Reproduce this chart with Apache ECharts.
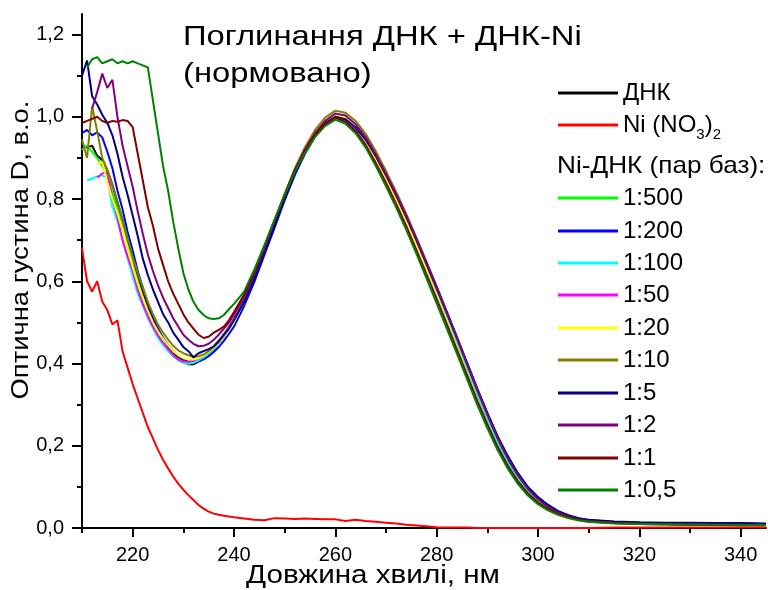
<!DOCTYPE html>
<html>
<head>
<meta charset="utf-8">
<script src="https://cdn.jsdelivr.net/npm/echarts@6.0.0/dist/echarts.min.js"></script>
<style>
html,body{margin:0;padding:0;background:#fff;}
#chart{width:768px;height:590px;}
</style>
</head>
<body>
<div id="chart"></div>
<script>
// Wavelengths, nm
const wavelengths = [
  210,211,212,213,214,215,216,217,218,219,220,221,222,223,224,225,226,227,228,229,230,
  231,232,233,234,235,236,237,238,239,240,
  242,244,246,248,250,252,254,256,258,260,262,264,266,268,270,272,274,276,278,280,
  282,284,286,288,290,292,294,296,298,300,302,304,306,308,310,
  315,320,325,330,335,340,345
];

// Series values (optical density, normalized)
const dnk = [
  0.93,0.925,0.93,0.905,0.895,0.87,0.835,0.79,0.75,0.70,0.66,0.61,0.575,0.535,0.508,0.48,0.462,0.44,0.427,0.415,0.405,
  0.398,0.398,0.405,0.415,0.425,0.435,0.45,0.465,0.485,0.505,
  0.555,0.61,0.675,0.74,0.805,0.865,0.915,0.955,0.985,1.0,0.99,0.968,0.935,0.892,0.845,0.795,0.742,0.685,0.627,0.568,
  0.508,0.447,0.385,0.323,0.265,0.21,0.163,0.124,0.092,0.068,0.05,0.036,0.027,0.021,0.017,
  0.013,0.011,0.01,0.009,0.008,0.008,0.007
];
const niNitrate = [
  0.68,0.60,0.575,0.60,0.55,0.53,0.495,0.505,0.43,0.39,0.35,0.315,0.28,0.245,0.218,0.19,0.166,0.145,0.125,0.108,0.093,
  0.08,0.068,0.056,0.047,0.04,0.035,0.032,0.03,0.028,0.026,
  0.023,0.02,0.019,0.024,0.023,0.022,0.023,0.022,0.021,0.021,0.017,0.02,0.017,0.015,0.013,0.011,0.008,0.006,0.004,0.002,
  0.001,0.001,0.001,0.0,0.0,0.0,0.0,0.0,0.0,0.0,0.0,0.0,0.0,0.0,0.0,
  0.001,0.001,0.001,0.001,0.001,0.002,0.002
];
const r500 = [
  0.92,0.93,0.915,0.90,0.88,0.855,0.815,0.775,0.73,0.685,0.64,0.60,0.56,0.525,0.495,0.47,0.45,0.432,0.418,0.408,0.402,
  0.40,0.402,0.408,0.418,0.428,0.44,0.455,0.47,0.49,0.51,
  0.552,0.608,0.673,0.738,0.803,0.864,0.913,0.954,0.984,0.998,0.99,0.967,0.933,0.89,0.843,0.793,0.74,0.683,0.625,0.566,
  0.505,0.444,0.382,0.32,0.262,0.207,0.16,0.121,0.09,0.066,0.049,0.035,0.026,0.02,0.016,
  0.012,0.01,0.009,0.009,0.008,0.007,0.007
];
const r200 = [
  0.96,0.968,0.955,0.962,0.95,0.915,0.875,0.82,0.775,0.72,0.675,0.625,0.585,0.545,0.512,0.485,0.462,0.445,0.43,0.418,0.41,
  0.405,0.403,0.405,0.41,0.418,0.428,0.44,0.455,0.472,0.49,
  0.54,0.598,0.664,0.73,0.797,0.858,0.91,0.952,0.982,0.998,0.992,0.972,0.942,0.902,0.857,0.808,0.756,0.70,0.642,0.583,
  0.523,0.462,0.40,0.338,0.279,0.222,0.174,0.133,0.099,0.074,0.055,0.04,0.03,0.023,0.019,
  0.015,0.013,0.012,0.012,0.011,0.011,0.01
];
const r100 = [
  null,0.845,0.85,0.855,0.858,0.85,0.78,0.745,0.70,0.655,0.612,0.57,0.54,0.51,0.485,0.462,0.445,0.43,0.418,0.41,0.402,
  0.40,0.402,0.408,0.415,0.425,0.436,0.45,0.466,0.485,0.505,
  0.558,0.612,0.676,0.741,0.806,0.866,0.916,0.956,0.985,1.0,0.991,0.969,0.936,0.893,0.846,0.796,0.743,0.686,0.628,0.569,
  0.509,0.447,0.384,0.321,0.262,0.206,0.158,0.118,0.087,0.064,0.047,0.034,0.026,0.02,0.016,
  0.012,0.01,0.009,0.009,0.008,0.008,0.007
];
const r50 = [
  null,null,null,0.852,0.862,0.865,0.80,0.755,0.70,0.66,0.625,0.58,0.545,0.515,0.49,0.468,0.45,0.435,0.42,0.41,0.405,
  0.404,0.407,0.412,0.42,0.43,0.44,0.455,0.47,0.49,0.51,
  0.56,0.615,0.679,0.744,0.808,0.868,0.918,0.958,0.987,1.002,0.993,0.97,0.936,0.892,0.844,0.793,0.739,0.681,0.622,0.561,
  0.50,0.438,0.375,0.312,0.252,0.197,0.15,0.111,0.081,0.06,0.044,0.032,0.024,0.019,0.015,
  0.012,0.01,0.009,0.008,0.008,0.007,0.007
];
const r20 = [
  null,null,null,0.885,0.89,0.84,0.80,0.765,0.725,0.68,0.635,0.595,0.56,0.528,0.50,0.478,0.46,0.444,0.43,0.42,0.413,
  0.41,0.41,0.413,0.42,0.428,0.438,0.45,0.465,0.482,0.50,
  0.553,0.61,0.676,0.742,0.808,0.869,0.92,0.96,0.99,1.005,0.997,0.974,0.94,0.897,0.849,0.798,0.744,0.686,0.626,0.565,
  0.503,0.44,0.376,0.312,0.252,0.197,0.149,0.11,0.08,0.059,0.043,0.032,0.024,0.019,0.015,
  0.012,0.01,0.009,0.009,0.008,0.008,0.007
];
const r10 = [
  0.945,0.90,1.025,0.965,0.90,0.87,0.835,0.795,0.75,0.705,0.66,0.62,0.585,0.55,0.52,0.495,0.475,0.458,0.443,0.432,0.425,
  0.42,0.416,0.418,0.422,0.43,0.44,0.452,0.468,0.486,0.505,
  0.555,0.612,0.678,0.745,0.812,0.874,0.926,0.968,0.998,1.015,1.01,0.99,0.958,0.916,0.868,0.818,0.764,0.707,0.648,0.588,
  0.527,0.465,0.402,0.339,0.279,0.222,0.172,0.13,0.096,0.071,0.052,0.038,0.029,0.022,0.018,
  0.014,0.012,0.011,0.01,0.009,0.009,0.008
];
const r5 = [
  1.10,1.137,1.05,1.03,1.005,0.985,0.955,0.91,0.855,0.81,0.76,0.71,0.655,0.615,0.58,0.55,0.52,0.50,0.475,0.458,0.44,
  0.43,0.415,0.425,0.43,0.435,0.442,0.455,0.47,0.485,0.505,
  0.55,0.605,0.67,0.736,0.802,0.862,0.913,0.954,0.984,1.0,0.994,0.974,0.944,0.904,0.858,0.809,0.757,0.701,0.643,0.584,
  0.524,0.463,0.401,0.339,0.28,0.224,0.176,0.134,0.10,0.075,0.056,0.041,0.031,0.024,0.02,
  0.016,0.014,0.013,0.013,0.012,0.012,0.011
];
const r2 = [
  null,null,1.02,1.06,1.105,1.07,1.09,1.00,0.93,0.88,0.83,0.77,0.715,0.665,0.625,0.59,0.56,0.535,0.51,0.49,0.47,
  0.458,0.448,0.442,0.443,0.448,0.458,0.47,0.485,0.50,0.52,
  0.562,0.616,0.68,0.746,0.811,0.87,0.92,0.96,0.99,1.008,1.003,0.982,0.95,0.908,0.861,0.812,0.759,0.703,0.645,0.586,
  0.525,0.463,0.40,0.337,0.277,0.22,0.171,0.129,0.095,0.07,0.051,0.037,0.028,0.021,0.017,
  0.013,0.011,0.01,0.009,0.008,0.008,0.007
];
const r1 = [
  0.985,0.99,0.995,1.0,0.99,0.985,0.99,0.988,0.992,0.99,0.975,0.91,0.845,0.78,0.735,0.68,0.64,0.60,0.57,0.545,0.52,
  0.50,0.485,0.47,0.462,0.465,0.475,0.482,0.49,0.505,0.525,
  0.568,0.622,0.684,0.748,0.811,0.869,0.917,0.956,0.985,0.998,0.988,0.965,0.931,0.887,0.839,0.788,0.734,0.676,0.617,0.557,
  0.496,0.434,0.372,0.31,0.252,0.198,0.152,0.114,0.084,0.062,0.046,0.034,0.026,0.02,0.016,
  0.012,0.01,0.009,0.008,0.008,0.007,0.007
];
const r05 = [
  null,1.12,1.14,1.145,1.13,1.135,1.14,1.13,1.135,1.13,1.135,1.13,1.125,1.12,1.04,0.96,0.88,0.82,0.745,0.68,0.62,
  0.58,0.55,0.53,0.518,0.51,0.508,0.51,0.518,0.532,0.545,
  0.575,0.628,0.688,0.75,0.81,0.866,0.912,0.951,0.978,0.993,0.983,0.96,0.925,0.88,0.831,0.78,0.725,0.667,0.607,0.546,
  0.485,0.424,0.362,0.30,0.243,0.19,0.145,0.108,0.079,0.058,0.043,0.032,0.024,0.019,0.015,
  0.011,0.01,0.009,0.008,0.008,0.007,0.007
];

const seriesNames = ['ДНК','Ni (NO3)2','1:500','1:200','1:100','1:50','1:20','1:10','1:5','1:2','1:1','1:0,5'];
const seriesValues = [dnk, niNitrate, r500, r200, r100, r50, r20, r10, r5, r2, r1, r05];
const seriesColors = ['#000000','#ff0000','#00ff00','#0000ff','#00ffff','#ff00ff','#ffff00','#808000','#000080','#800080','#800000','#008000'];

const xLabelTicks = [220,240,260,280,300,320,340];
const xMinorTicks = [210,230,250,270,290,310,330];
const yLabelTicks = [0,0.2,0.4,0.6,0.8,1.0,1.2];
const yMinorTicks = [0.1,0.3,0.5,0.7,0.9,1.1];

const FONT = "'Liberation Sans', Arial, sans-serif";
const chart = echarts.init(document.getElementById('chart'), null, {renderer:'canvas'});

const series = seriesNames.map((name, i) => ({
  name: name,
  type: 'line',
  xAxisIndex: 0, yAxisIndex: 0,
  showSymbol: false, symbol: 'none',
  color: seriesColors[i],
  lineStyle: {width: 2, color: seriesColors[i]},
  connectNulls: false,
  animation: false,
  data: wavelengths.map((w, k) => [w, seriesValues[i][k]])
}));

// legend rows (vertical centres)
const legendCentres = [93,125,198,231,263,295,328,360,393,425,458,490];
const legends = seriesNames.map((name, i) => {
  const lg = {
    data: [name], left: 558, top: legendCentres[i] - 15, orient: 'vertical',
    itemWidth: 60, itemHeight: 3, icon: 'rect', padding: 0, selectedMode: false,
    textStyle: {fontSize: 24, color: '#000', fontFamily: FONT, lineHeight: 30}
  };
  if (i === 1) {
    lg.formatter = 'Ni (NO{s|3}){s|2}';
    lg.textStyle.rich = {s: {fontSize: 15, fontFamily: FONT, color: '#000', padding: [19,0,0,0]}};
  }
  return lg;
});

const option = {
  animation: false,
  backgroundColor: '#fff',
  grid: {left: 82, right: 2, top: 14, bottom: 62, containLabel: false},
  xAxis: [
    {type:'value', min:210, max:345, position:'bottom',
     axisLine:{show:true, onZero:false, lineStyle:{color:'#000', width:2}},
     axisTick:{show:true, customValues: xLabelTicks, length:9, lineStyle:{color:'#000', width:2}},
     axisLabel:{show:true, customValues: xLabelTicks, fontSize:20, color:'#000', fontFamily:FONT, margin:17},
     splitLine:{show:false}},
    {type:'value', min:210, max:345, position:'bottom',
     axisLine:{show:false, onZero:false},
     axisTick:{show:true, customValues: xMinorTicks, length:5, lineStyle:{color:'#000', width:2}},
     axisLabel:{show:false}, splitLine:{show:false}}
  ],
  yAxis: [
    {type:'value', min:0, max:1.25, position:'left',
     axisLine:{show:true, onZero:false, lineStyle:{color:'#000', width:2}},
     axisTick:{show:true, customValues: yLabelTicks, length:10, lineStyle:{color:'#000', width:2}},
     axisLabel:{show:true, customValues: yLabelTicks, fontSize:20, color:'#000', fontFamily:FONT, margin:18,
       formatter: v => v.toFixed(1).replace('.', ',')},
     splitLine:{show:false}},
    {type:'value', min:0, max:1.25, position:'left',
     axisLine:{show:false, onZero:false},
     axisTick:{show:true, customValues: yMinorTicks, length:5, lineStyle:{color:'#000', width:2}},
     axisLabel:{show:false}, splitLine:{show:false}}
  ],
  legend: legends,
  graphic: [
    {type:'text', x:183, y:37, scaleX:1.17, style:{text:'Поглинання ДНК + ДНК-Ni', font:'28px ' + FONT, fill:'#000', textAlign:'left', textVerticalAlign:'middle', align:'left', verticalAlign:'middle'}},
    {type:'text', x:183, y:74, scaleX:1.17, style:{text:'(нормовано)', font:'28px ' + FONT, fill:'#000', textAlign:'left', textVerticalAlign:'middle', align:'left', verticalAlign:'middle'}},
    {type:'text', x:557, y:166, scaleX:1.09, style:{text:'Ni-ДНК (пар баз):', font:'24px ' + FONT, fill:'#000', textAlign:'left', textVerticalAlign:'middle', align:'left', verticalAlign:'middle'}},
    {type:'text', x:373, y:576, scaleX:1.14, style:{text:'Довжина хвилі, нм', font:'26px ' + FONT, fill:'#000', textAlign:'center', textVerticalAlign:'middle', align:'center', verticalAlign:'middle'}},
    {type:'text', x:22, y:250, rotation: Math.PI/2, scaleX:1.19, style:{text:'Оптична густина D, в.о.', font:'23px ' + FONT, fill:'#000', textAlign:'center', textVerticalAlign:'middle', align:'center', verticalAlign:'middle'}}
  ],
  series: series
};
chart.setOption(option);
</script>
</body>
</html>
